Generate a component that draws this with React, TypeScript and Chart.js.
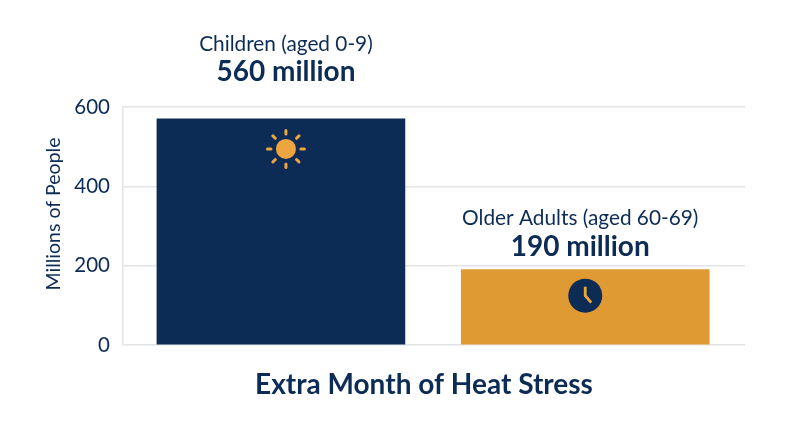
import React, { useEffect, useRef } from "react";
import { Chart, registerables } from "chart.js";

Chart.register(...registerables);

const NAVY = "#0c2c55";
const ORANGE = "#e09a33";
const SUN = "#eda63f";
const GRID = "#e2e4e6";
const FONT = "Lato";

const positions = [0, 1];
const values = [570, 190];
const barColors = [NAVY, ORANGE];
const categoryNames = ["Children (aged 0-9)", "Older Adults (aged 60-69)"];
const valueLabels = ["560 million", "190 million"];
const yTicks = [0, 200, 400, 600];
const yAxisTitle = "Millions of People";
const xAxisTitle = "Extra Month of Heat Stress";

const annotations = {
  id: "annotations",
  afterDatasetsDraw(chart: any) {
    const { ctx } = chart;
    const bars = chart.getDatasetMeta(0).data;
    ctx.save();
    ctx.textAlign = "center";
    ctx.textBaseline = "middle";
    ctx.fillStyle = NAVY;

    const c0 = bars[0].x + 5;
    const c1 = bars[1].x - 5;
    const labelY = [bars[0].y - 74.5, bars[1].y - 51];
    [c0, c1].forEach((cx, i) => {
      ctx.font = `400 20.8px ${FONT}`;
      ctx.fillText(categoryNames[i], cx, labelY[i]);
      ctx.font = `700 28px ${FONT}`;
      ctx.fillText(valueLabels[i], cx, labelY[i] + 28);
    });

    ctx.font = `700 28px ${FONT}`;
    ctx.fillText(xAxisTitle, chart.chartArea.left + 301, chart.chartArea.bottom + 40);

    // y axis title
    ctx.save();
    ctx.translate(chart.chartArea.left - 69, chart.chartArea.top + 107);
    ctx.rotate(-Math.PI / 2);
    ctx.font = `400 19.5px ${FONT}`;
    ctx.fillText(yAxisTitle, 0, 0);
    ctx.restore();

    // sun icon
    const sx = bars[0].x + 5;
    const sy = bars[0].y + 30;
    ctx.fillStyle = SUN;
    ctx.beginPath();
    ctx.arc(sx, sy, 10, 0, Math.PI * 2);
    ctx.fill();
    ctx.strokeStyle = SUN;
    ctx.lineWidth = 3;
    ctx.lineCap = "round";
    for (let k = 0; k < 8; k++) {
      const a = (k * Math.PI) / 4;
      ctx.beginPath();
      ctx.moveTo(sx + Math.cos(a) * 15, sy + Math.sin(a) * 15);
      ctx.lineTo(sx + Math.cos(a) * 18.5, sy + Math.sin(a) * 18.5);
      ctx.stroke();
    }

    // clock icon
    const kx = bars[1].x;
    const ky = bars[1].y + 26;
    ctx.fillStyle = NAVY;
    ctx.beginPath();
    ctx.arc(kx, ky, 17, 0, Math.PI * 2);
    ctx.fill();
    ctx.strokeStyle = SUN;
    ctx.lineWidth = 2.8;
    ctx.lineCap = "butt";
    ctx.beginPath();
    ctx.moveTo(kx, ky - 9);
    ctx.lineTo(kx, ky);
    ctx.lineTo(kx + 6, ky + 7);
    ctx.stroke();
    ctx.restore();
  },
};

export default function App() {
  const ref = useRef<HTMLCanvasElement>(null);
  useEffect(() => {
    const chart = new Chart(ref.current!, {
      type: "bar",
      data: {
        datasets: [
          {
            data: positions.map((x, i) => ({ x, y: values[i] })),
            backgroundColor: barColors,
            barThickness: 248,
            borderWidth: 0,
          },
        ],
      },
      options: {
        animation: false,
        responsive: false,
        layout: { padding: { top: 107, bottom: 102, left: 45, right: 55 } },
        plugins: { legend: { display: false }, tooltip: { enabled: false } },
        scales: {
          x: { type: "linear", display: false, offset: false, min: -0.519, max: 1.525 },
          y: {
            min: 0,
            max: 600,
            afterBuildTicks(axis: any) {
              axis.ticks = yTicks.map((value) => ({ value }));
            },
            afterFit(axis: any) {
              axis.width = 78;
            },
            grid: { color: GRID, lineWidth: 1.5, drawTicks: false },
            border: { color: GRID, width: 1.5 },
            ticks: {
              color: NAVY,
              padding: 13,
              font: { family: FONT, size: 20.5 },
            },
          },
        },
      },
      plugins: [annotations],
    } as any);
    return () => chart.destroy();
  }, []);
  return (
    <div style={{ position: "absolute", left: 0, top: 0, width: 800, height: 447, background: "#fff" }}>
      <canvas ref={ref} width={800} height={447} style={{ display: "block" }} />
    </div>
  );
}
